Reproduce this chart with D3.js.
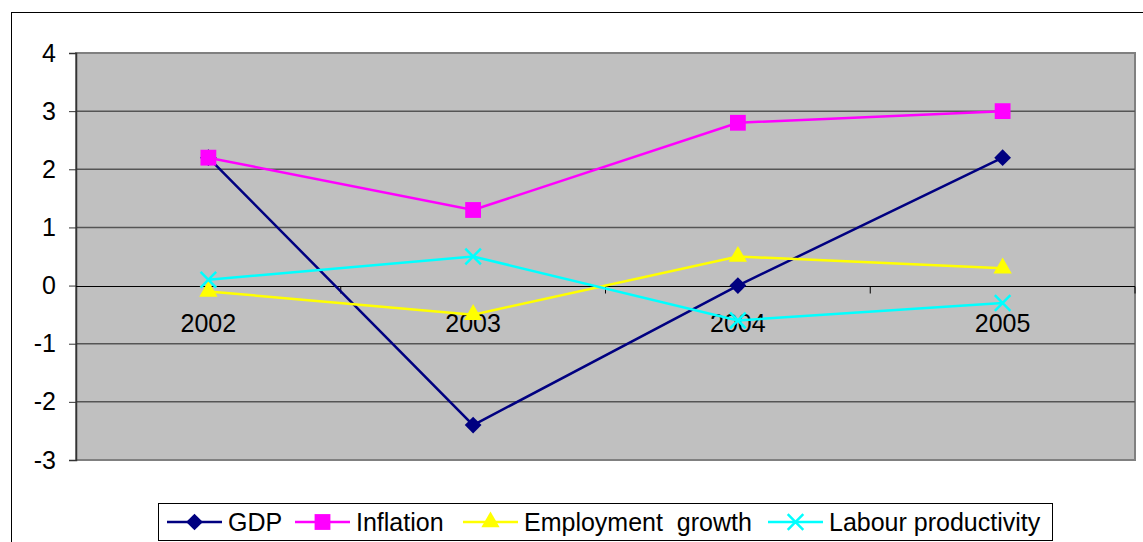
<!DOCTYPE html>
<html>
<head>
<meta charset="utf-8">
<script src="https://cdn.jsdelivr.net/npm/d3@7"></script>
<style>
	body { margin: 0; background: #fff; }
	text { font-family: "Liberation Sans", Arial, sans-serif; fill: #000; }
</style>
</head>
<body>
<svg id="chart"></svg>
<script>
const years = ['2002', '2003', '2004', '2005'];
const gdp = [2.2, -2.4, 0, 2.2];
const inflation = [2.2, 1.3, 2.8, 3.0];
const employment = [-0.1, -0.5, 0.5, 0.3];
const productivity = [0.1, 0.5, -0.6, -0.3];
const yTicks = [-3, -2, -1, 0, 1, 2, 3, 4];

const series = [
	{ name: 'GDP', values: gdp, color: '#000080', symbol: d3.symbolSquare, size: 140, rotate: 45 },
	{ name: 'Inflation', values: inflation, color: '#FF00FF', symbol: d3.symbolSquare, size: 250, rotate: 0 },
	{ name: 'Employment  growth', values: employment, color: '#FFFF00', symbol: d3.symbolTriangle, size: 145, rotate: 0 },
	{ name: 'Labour productivity', values: productivity, color: '#00FFFF', symbol: d3.symbolX, size: 160, rotate: 0 }
];

const width = 1143;
const height = 542;
const plotLeft = 76, plotRight = 1135, plotTop = 53, plotBottom = 460;
const fontSize = '25px';

const svg = d3.select('#chart')
	.attr('width', width)
	.attr('height', height);

// chart frame
svg.append('rect')
	.attr('x', 11.5).attr('y', 12.5)
	.attr('width', 1200).attr('height', 600)
	.attr('fill', '#fff').attr('stroke', '#000').attr('stroke-width', 1);

const xScale = d3.scaleBand().domain(years).range([plotLeft, plotRight]);
const yScale = d3.scaleLinear().domain([-3, 4]).range([plotBottom, plotTop]);

svg.append('rect')
	.attr('x', plotLeft).attr('y', plotTop)
	.attr('width', plotRight - plotLeft).attr('height', plotBottom - plotTop)
	.attr('fill', '#C0C0C0').attr('stroke', '#808080').attr('stroke-width', 2);

// gridlines
svg.append('g')
	.selectAll('line')
	.data(yTicks.filter(d => d !== 0 && d !== -3 && d !== 4))
	.join('line')
	.attr('x1', plotLeft).attr('x2', plotRight)
	.attr('y1', d => yScale(d)).attr('y2', d => yScale(d))
	.attr('stroke', '#555').attr('stroke-width', 1.5);

// y axis
const yAxis = d3.axisLeft(yScale)
	.tickValues(yTicks)
	.tickSize(7)
	.tickPadding(13)
	.tickFormat(d => String(d));
const yG = svg.append('g')
	.attr('transform', `translate(${plotLeft}, 0)`)
	.call(yAxis);
yG.attr('font-family', null).attr('font-size', null);
yG.select('.domain').attr('stroke', '#333').attr('stroke-width', 1.5);
yG.selectAll('.tick line').attr('stroke', '#333');
yG.selectAll('text').style('font-size', fontSize).attr('fill', '#000');

// x axis at zero
const zeroY = Math.round(yScale(0)) + 0.5;
svg.append('line')
	.attr('x1', plotLeft).attr('x2', plotRight)
	.attr('y1', zeroY).attr('y2', zeroY)
	.attr('stroke', '#000').attr('stroke-width', 1);

svg.append('g')
	.selectAll('line')
	.data(years.slice(1).map(y => xScale(y)).concat([plotRight]))
	.join('line')
	.attr('x1', d => d).attr('x2', d => d)
	.attr('y1', zeroY).attr('y2', zeroY + 7)
	.attr('stroke', '#000');

svg.append('g')
	.selectAll('text')
	.data(years)
	.join('text')
	.attr('x', d => xScale(d) + xScale.bandwidth() / 2)
	.attr('y', zeroY + 45)
	.attr('text-anchor', 'middle')
	.style('font-size', fontSize)
	.text(d => d);

// lines and markers
const cx = d => xScale(d) + xScale.bandwidth() / 2;
const line = d3.line()
	.x((d, i) => cx(years[i]))
	.y(d => yScale(d));

function drawMarker(sel, s) {
	sel.attr('d', d3.symbol().type(s.symbol).size(s.size))
		.attr('fill', s.color)
		.attr('stroke', s.symbol === d3.symbolX ? s.color : 'none')
		.attr('stroke-width', 2.5);
}

series.forEach(s => {
	const g = svg.append('g');
	g.append('path')
		.datum(s.values)
		.attr('d', line)
		.attr('fill', 'none')
		.attr('stroke', s.color)
		.attr('stroke-width', 2.5);
	g.selectAll('path.pt')
		.data(s.values)
		.join('path')
		.attr('class', 'pt')
		.attr('transform', (d, i) => `translate(${cx(years[i])}, ${yScale(d)}) rotate(${s.rotate})`)
		.call(drawMarker, s);
});

// legend
const legend = svg.append('g');
legend.append('rect')
	.attr('x', 158.5).attr('y', 503.5)
	.attr('width', 894).attr('height', 37)
	.attr('fill', '#fff').attr('stroke', '#000');

const legendX = [167, 295, 463, 768];
series.forEach((s, i) => {
	const x0 = legendX[i];
	const g = legend.append('g').attr('transform', `translate(${x0}, 522)`);
	g.append('line')
		.attr('x1', 0).attr('x2', 55)
		.attr('stroke', s.color).attr('stroke-width', 2.5);
	g.append('path')
		.attr('transform', `translate(27.5, 0) rotate(${s.rotate})`)
		.call(drawMarker, s);
	g.append('text')
		.attr('x', 61)
		.attr('dy', '0.36em')
		.style('font-size', fontSize)
		.style('white-space', 'pre')
		.text(s.name);
});
</script>
</body>
</html>
